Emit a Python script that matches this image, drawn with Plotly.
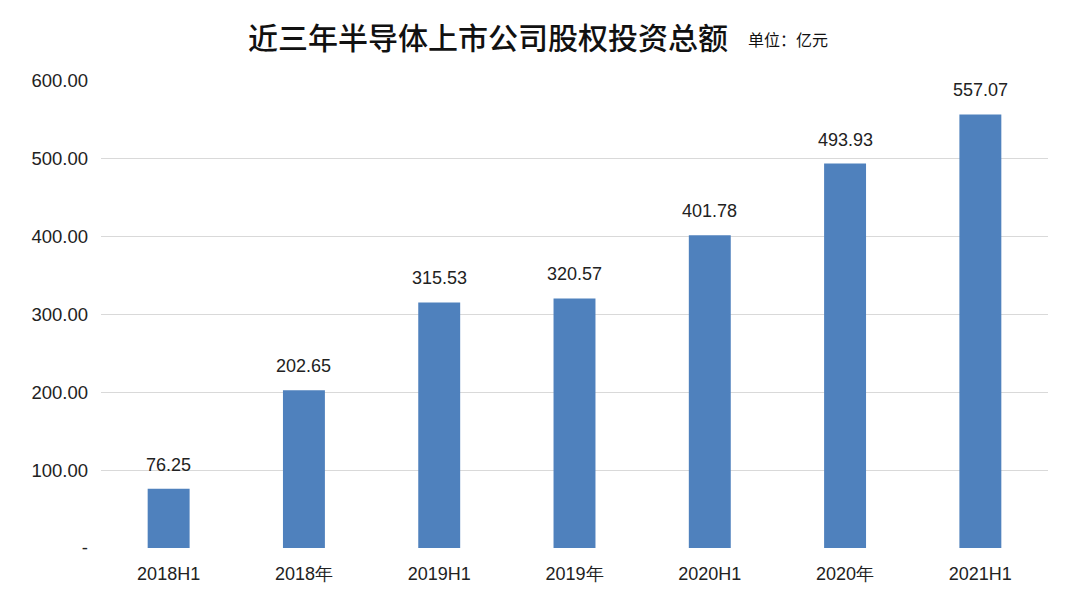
import plotly.graph_objects as go

# 近三年半导体上市公司股权投资总额（亿元）
periods = ["2018H1", "2018年", "2019H1", "2019年", "2020H1", "2020年", "2021H1"]
amounts = [76.25, 202.65, 315.53, 320.57, 401.78, 493.93, 557.07]
y_ticks = [0, 100, 200, 300, 400, 500, 600]
y_tick_labels = ["-", "100.00", "200.00", "300.00", "400.00", "500.00", "600.00"]

cjk_font = "Noto Sans CJK SC, sans-serif"
num_font = "Liberation Sans, Arial, sans-serif"

fig = go.Figure(
    go.Bar(
        x=periods,
        y=amounts,
        width=0.31,
        marker=dict(color="#4f81bd", line=dict(width=0)),
        hoverinfo="x+y",
    )
)

# value labels above each bar
for p, v in zip(periods, amounts):
    fig.add_annotation(
        x=p, y=v, text=f"{v:.2f}",
        showarrow=False, yanchor="bottom", yshift=12,
        font=dict(size=18, color="#222222", family=num_font),
    )

# page has an 8px body margin, so the figure is sized to fit the window
fig.update_layout(
    width=1064,
    height=588,
    paper_bgcolor="white",
    plot_bgcolor="white",
    margin=dict(l=93, r=24, t=73, b=48),
    showlegend=False,
    font=dict(family=cjk_font, color="#222222"),
)

fig.update_xaxes(
    type="category",
    showgrid=False,
    showline=False,
    ticks="",
    ticklabelstandoff=13,
    tickfont=dict(size=18, color="#222222", family=num_font),
)

fig.update_yaxes(
    range=[0, 600],
    tickvals=y_ticks,
    ticktext=y_tick_labels,
    showgrid=True,
    gridcolor="#d9d9d9",
    gridwidth=1.3,
    zeroline=False,
    showline=False,
    ticks="",
    ticklabelstandoff=12,
    tickfont=dict(size=18.5, color="#222222", family=num_font),
)

fig.add_annotation(
    text="近三年半导体上市公司股权投资总额",
    xref="paper", yref="paper",
    x=0.409, y=1.0, yshift=45,
    xanchor="center", yanchor="middle",
    showarrow=False,
    font=dict(size=30, color="#111111", family=cjk_font, weight=500),
)
fig.add_annotation(
    text="单位：亿元",
    xref="paper", yref="paper",
    x=0.681, y=1.0, yshift=42,
    xanchor="left", yanchor="middle",
    showarrow=False,
    font=dict(size=16, color="#111111", family=cjk_font),
)

fig.write_html("out.html")
